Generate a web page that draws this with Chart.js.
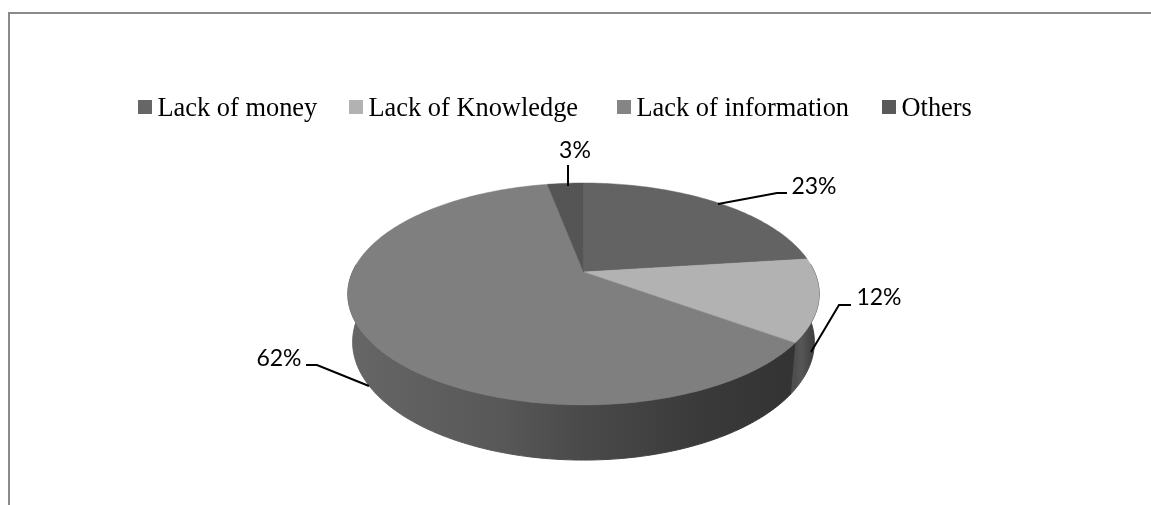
<!DOCTYPE html>
<html>
<head>
<meta charset="utf-8">
<script src="https://cdn.jsdelivr.net/npm/chart.js@4"></script>
<style>
html,body{margin:0;padding:0;background:#fff;}
canvas{display:block;}
</style>
</head>
<body>
<canvas id="c" width="1151" height="505"></canvas>
<script>
const categories = ["Lack of money", "Lack of Knowledge", "Lack of information", "Others"];
const shares = [23, 12, 62, 3];
const sliceColors = ["#636363", "#b2b2b2", "#7f7f7f", "#555555"];
const legendColors = ["#666666", "#b2b2b2", "#858585", "#595959"];

const P = {x0:583.5, y0:272, a:106.6, b:231, k:0.198, d:48, m:0.02};
function proj(ang, h){
  const u = Math.cos(ang), v = Math.sin(ang);
  const w = 1 - P.k*v + P.m*h;
  return [P.x0 + P.b*u/w, P.y0 + (P.a*v + P.d*h)/w];
}
const wallStops = [
  [[0,"#4a4a4a"],[1,"#4a4a4a"]],
  [[0,"#4e4e4e"],[0.3,"#575757"],[1,"#3a3a3a"]],
  [[0,"#666666"],[0.34,"#585858"],[0.52,"#4a4a4a"],[0.79,"#3a3a3a"],[1,"#333333"]],
  [[0,"#4a4a4a"],[1,"#4a4a4a"]]
];
const pie3d = {
  id:"pie3d",
  beforeDatasetDraw(chart){
    const off = document.createElement("canvas");
    off.width = chart.width; off.height = chart.height;
    const ctx = off.getContext("2d");
    const arcs = chart.getDatasetMeta(0).data;
    const STEP = Math.PI/180;
    // side wall
    arcs.forEach((el,i)=>{
      const x1 = proj(el.startAngle,0)[0], x2 = proj(el.endAngle,0)[0];
      const grad = ctx.createLinearGradient(i===2?348:Math.min(x1,x2),0,i===1?816:Math.max(x1,x2),0);
      wallStops[i].forEach(s=>grad.addColorStop(s[0],s[1]));
      ctx.fillStyle = grad; ctx.strokeStyle = grad; ctx.lineWidth = 1;
      ctx.beginPath();
      const top=[],bot=[];
      for(let t=el.startAngle;t<el.endAngle;t+=STEP){
        if(Math.sin(t)<-0.08) continue;
        top.push(proj(t,0)); bot.push(proj(t,1));
      }
      if(Math.sin(el.endAngle)>=-0.08){top.push(proj(el.endAngle,0));bot.push(proj(el.endAngle,1));}
      if(!top.length) return;
      top.forEach((p,n)=> n?ctx.lineTo(p[0],p[1]):ctx.moveTo(p[0],p[1]));
      bot.reverse().forEach(p=>ctx.lineTo(p[0],p[1]));
      ctx.closePath(); ctx.fill(); ctx.stroke();
    });
    // top face
    arcs.forEach((el,i)=>{
      ctx.fillStyle = sliceColors[i]; ctx.strokeStyle = sliceColors[i]; ctx.lineWidth = 0.5;
      ctx.beginPath();
      ctx.moveTo(P.x0,P.y0);
      for(let t=el.startAngle;t<el.endAngle;t+=STEP){const p=proj(t,0);ctx.lineTo(p[0],p[1]);}
      const e=proj(el.endAngle,0);ctx.lineTo(e[0],e[1]);
      ctx.closePath(); ctx.fill(); ctx.stroke();
    });
    const main = chart.ctx;
    main.save();
    main.filter = "blur(0.7px)";
    main.drawImage(off,0,0);
    main.restore();
    return false;
  }
};
const overlay = {
  id:"overlay",
  afterDraw(chart){
    const ctx = chart.ctx;
    ctx.save();
    // frame
    ctx.fillStyle="#8a8a8a";
    ctx.fillRect(8,12,1143,2);
    ctx.fillRect(8,12,2,493);
    // legend
    const swatchX=[138,349,617,882];
    ctx.font='26.4px "Liberation Serif"';
    ctx.textBaseline="alphabetic"; ctx.textAlign="left";
    categories.forEach((c,i)=>{
      ctx.fillStyle=legendColors[i];
      ctx.fillRect(swatchX[i],100,14,14);
      ctx.fillStyle="#000";
      ctx.fillText(c,swatchX[i]+19.5,116);
    });
    // leaders
    const leaders=[
      [[718,204],[777,193],[787,193]],
      [[811,352],[839,305],[851,305]],
      [[369,386],[317,365],[306,365]],
      [[568,186],[568,165]]
    ];
    const labelPos=[[814,187],[879,298],[279,359],[575,151]];
    ctx.strokeStyle="#000"; ctx.lineWidth=2;
    leaders.forEach(l=>{
      ctx.beginPath();
      l.forEach((p,n)=>n?ctx.lineTo(p[0],p[1]):ctx.moveTo(p[0],p[1]));
      ctx.stroke();
    });
    ctx.font='23px Lato'; ctx.textAlign="center"; ctx.textBaseline="middle"; ctx.fillStyle="#000";
    shares.forEach((s,i)=>ctx.fillText(s+"%",labelPos[i][0],labelPos[i][1]));
    ctx.restore();
  }
};
new Chart(document.getElementById("c"),{
  type:"pie",
  data:{labels:categories,datasets:[{data:shares,backgroundColor:sliceColors,borderWidth:0}]},
  options:{
    responsive:false,animation:false,
    plugins:{legend:{display:false},tooltip:{enabled:false}}
  },
  plugins:[pie3d,overlay]
});
</script>
</body>
</html>
